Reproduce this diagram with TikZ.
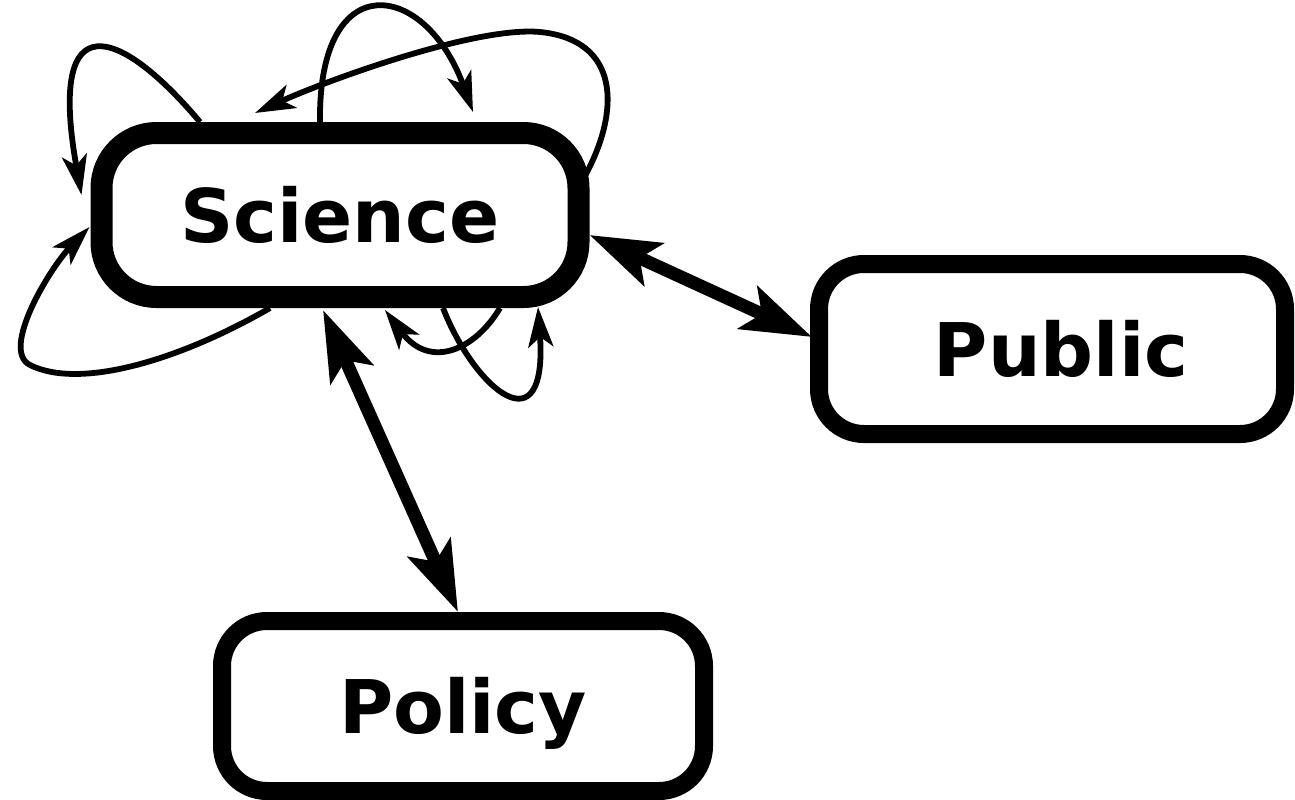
\documentclass[tikz,border=0pt]{standalone}
\usepackage{fontspec}
\setmainfont{DejaVu Sans}
\usetikzlibrary{arrows.meta,calc}
\begin{document}
\begin{tikzpicture}[x=1pt,y=-1pt,
  box/.style={draw, fill=white, rounded corners=#1, font=\fontsize{74}{80}\selectfont\bfseries,
    text height=54pt, text depth=0pt, inner sep=0pt},
  bigarrow/.style={line width=13pt, {Stealth[length=70pt,width=46pt,inset=15pt]}-{Stealth[length=70pt,width=46pt,inset=15pt]}},
  loop/.style={line width=5.8pt, -{Stealth[length=40pt,width=25pt,inset=10pt]}}]
\useasboundingbox (0,0) rectangle (1295,800);
\node[box=55pt, line width=22pt, minimum width=477pt, minimum height=164pt] (sci) at (340,215) {Science};
\node[box=45pt, line width=18pt, minimum width=466pt, minimum height=170pt] (pub) at (1052,349) {\kern18pt Public};
\node[box=45pt, line width=18pt, minimum width=482pt, minimum height=170pt] (pol) at (463,706) {Policy};
% thick connectors
\draw[bigarrow] ($(sci.east)+(0,20)$) -- ($(pub.west)+(2,-12)$);
\draw[bigarrow] ($(sci.south)+(-17,2)$) -- ($(pol.north)+(-5,0)$);
% self loops of Science
\draw[loop] ($(sci.north)+(-140,0)$) .. controls +(-80,-95) and +(-35,-195) .. ($(sci.west)+(-9,-20)$);
\draw[loop] ($(sci.north)+(-20,0)$) .. controls +(-2,-157) and +(-48,-132) .. ($(sci.north)+(133,-10)$);
\draw[loop] ($(sci.east)+(-4,-40)$) .. controls +(35,-65) and +(80,8) .. (540,32)
  .. controls (476,26) and (328,80) .. ($(sci.north)+(-85,-9)$);
\draw[loop] ($(sci.south)+(-70,0)$) .. controls +(-90,52) and +(50,25) .. (30,365)
  .. controls (0,350) and (50,268) .. ($(sci.west)+(-1,12)$);
\draw[loop] ($(sci.south)+(160,0)$) .. controls +(-25,42) and +(45,60) .. ($(sci.south)+(45,2)$);
\draw[loop] ($(sci.south)+(103,0)$) .. controls +(32,82) and +(10,143) .. ($(sci.south)+(198,-1)$);
\end{tikzpicture}
\end{document}
